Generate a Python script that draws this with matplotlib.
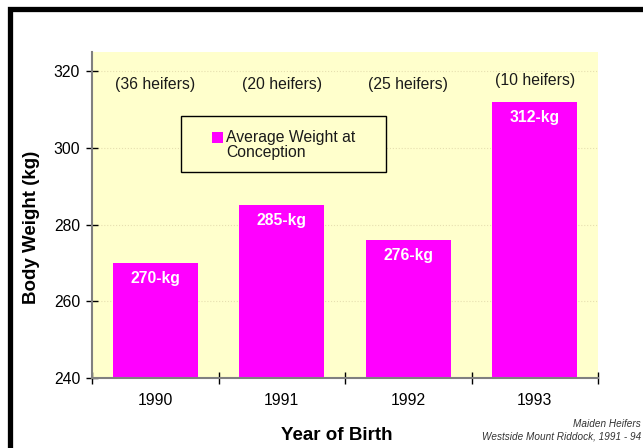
import numpy as np
import matplotlib
matplotlib.use("Agg")
from matplotlib import pyplot as plt
from matplotlib.patches import Rectangle

plt.rcParams['font.family'] = ['Liberation Sans', 'DejaVu Sans']

years = ['1990', '1991', '1992', '1993']
weights = [270, 285, 276, 312]
bar_labels = ['270-kg', '285-kg', '276-kg', '312-kg']
heifers = ['(36 heifers)', '(20 heifers)', '(25 heifers)', '(10 heifers)']
heifer_y = [316.6, 316.6, 316.6, 317.6]

fs = 11.3

fig = plt.figure(figsize=(6.43, 4.48), dpi=100)
ax = fig.add_axes([92/643, 70/448, 506/643, 326/448])
ax.set_facecolor('#FFFFCC')

x = np.arange(len(years))
bars = ax.bar(x, weights, width=0.67, color='#FF00FF', zorder=2)

ax.set_xlim(-0.5, 3.5)
ax.set_ylim(240, 325)
ax.set_yticks([240, 260, 280, 300, 320])
ax.yaxis.grid(True, linestyle=':', color='#e6dfb0', linewidth=0.8, zorder=0)
ax.set_axisbelow(True)

# boundary ticks (unlabelled) and centred year labels
ax.set_xticks(np.arange(-0.5, 4.0, 1.0))
ax.set_xticklabels([])
ax.set_xticks(x, minor=True)
ax.set_xticklabels(years, minor=True, fontsize=fs)
ax.tick_params(axis='x', which='major', direction='inout', length=9, width=1, color='black')
ax.tick_params(axis='x', which='minor', length=0, pad=11)
ax.tick_params(axis='y', direction='inout', length=9, width=1, color='black', labelsize=fs, pad=4)

for s in ['top', 'right']:
    ax.spines[s].set_visible(False)
for s in ['left', 'bottom']:
    ax.spines[s].set_color('#808080')
    ax.spines[s].set_linewidth(1.5)

for xi, w, lab in zip(x, weights, bar_labels):
    ax.text(xi, w - 4, lab, ha='center', va='center', color='white',
            fontsize=fs, fontweight='bold', zorder=3)

for xi, hy, lab in zip(x, heifer_y, heifers):
    ax.text(xi, hy, lab, ha='center', va='center', fontsize=fs, color='#1a1a1a')

# legend box
ax.add_patch(Rectangle((0.176, 0.632), 0.405, 0.172, transform=ax.transAxes,
                       facecolor='#FFFFCC', edgecolor='black', linewidth=1, zorder=4))
ax.add_patch(Rectangle((0.2366, 0.722), 0.023, 0.0337, transform=ax.transAxes,
                       facecolor=bars[0].get_facecolor(), edgecolor='none', zorder=5))
ax.text(0.265, 0.715, 'Average Weight at\nConception', transform=ax.transAxes,
        ha='left', va='center', fontsize=fs, linespacing=1.05, color='#1a1a1a', zorder=5)

ax.set_ylabel('Body Weight (kg)', fontsize=13.5, fontweight='bold')
ax.yaxis.set_label_coords(-0.103, 0.463)
fig.text(337/643, 1 - 435/448, 'Year of Birth', ha='center', va='center',
         fontsize=13.5, fontweight='bold')

fig.text(641/643, 1 - 424/448, 'Maiden Heifers', ha='right', va='center',
         fontsize=7.2, style='italic', color='#333333')
fig.text(641/643, 1 - 436/448, 'Westside Mount Riddock, 1991 - 94', ha='right', va='center',
         fontsize=7.2, style='italic', color='#333333')

# thick black frame (only left and top edges fall inside the image)
fig.patches.append(Rectangle((9.5/643, -0.2), 1.2, 1 - 9.5/448 + 0.2,
                             transform=fig.transFigure, fill=False,
                             edgecolor='black', linewidth=3.8))

fig.savefig('out.png', dpi=100)
